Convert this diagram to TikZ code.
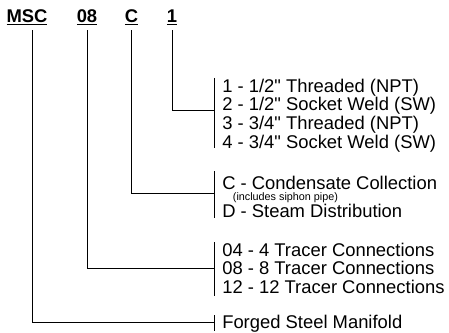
\documentclass[tikz,border=0pt]{standalone}
\usepackage{fontspec}
\setmainfont{Liberation Sans}
\newfontfamily\plainsans{Liberation Sans}
\usetikzlibrary{positioning}

\begin{document}
\begin{tikzpicture}[
		x=0.75pt, y=-0.75pt,
		% Parts of the model code (top row)
		codepart/.style={
			anchor=base,
			inner sep=4pt,
			font=\fontsize{13.8}{16}\plainsans\bfseries
		},
		% List of choices for one part
		optlist/.style={
			anchor=west,
			align=left,
			inner xsep=6pt,
			inner ysep=0pt,
			font=\fontsize{13.8}{13.9}\plainsans
		},
		% Lines from a part to its list
		link/.style={
			line width=0.75pt,
			black
		}
		]
		
		\useasboundingbox (0,0) rectangle (449,332);
		
		% Code parts
		\node (msc) [codepart] at (27,22) {\underline{MSC}};
		\node (size) [codepart] at (87,22) {\underline{08}};
		\node (kind) [codepart] at (131.5,22) {\underline{C}};
		\node (conn) [codepart] at (172,22) {\underline{1}};
		
		% Choice lists
		\node (conn-opts) [optlist] at (214,115.5) {1 - 1/2" Threaded (NPT)\\2 - 1/2" Socket Weld (SW)\\3 - 3/4" Threaded (NPT)\\4 - 3/4" Socket Weld (SW)};
		\node (kind-opts) [optlist] at (214,197) {C - Condensate Collection\\[-5.4pt]\hspace*{8pt}{\fontsize{8.1}{9}\selectfont (includes siphon pipe)}\\[-1.4pt]D - Steam Distribution};
		\node (size-opts) [optlist] at (214,268) {04 - 4 Tracer Connections\\08 - 8 Tracer Connections\\12 - 12 Tracer Connections};
		\node (msc-opts) [optlist] at (214,324) {Forged Steel Manifold};
		
		% Brackets in front of each list
		\draw [link] ([yshift=0.75pt]conn-opts.north west) -- ([yshift=3pt]conn-opts.south west);
		\draw [link] ([yshift=3.5pt]kind-opts.north west) -- (kind-opts.south west);
		\draw [link] (size-opts.north west) -- ([yshift=-2pt]size-opts.south west);
		\draw [link] (msc-opts.north west) -- ([yshift=1.5pt]msc-opts.south west);
		
		% Connectors from the parts to their lists
		\draw [link] (conn.south) |- ([yshift=3.5pt]conn-opts.west);
		\draw [link] (kind.south) |- ([yshift=3pt]kind-opts.west);
		\draw [link] (size.south) |- (size-opts.west);
		\draw [link] ([xshift=3.75pt]msc.south) |- ([yshift=1.3pt]msc-opts.west);
		
	\end{tikzpicture}
\end{document}
